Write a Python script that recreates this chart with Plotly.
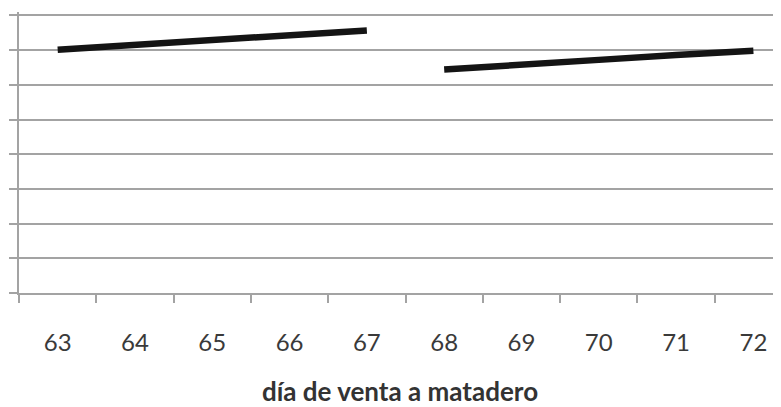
import plotly.graph_objects as go

days_a = [63, 64, 65, 66, 67]
values_a = [7.01, 7.15, 7.26, 7.43, 7.57]
days_b = [68, 69, 70, 71, 72]
values_b = [6.44, 6.56, 6.72, 6.86, 6.98]
all_days = list(range(63, 73))
tick_labels = [str(d) for d in all_days]
x_title = "día de venta a matadero"

fig = go.Figure()
for xs, ys in [(days_a, values_a), (days_b, values_b)]:
    fig.add_trace(go.Scatter(x=xs, y=ys, mode="lines",
                             line=dict(color="#141414", width=6.5),
                             showlegend=False, hoverinfo="skip"))

grid_col = "#a3a3a3"
fig.update_layout(
    width=773, height=399,
    margin=dict(l=11, r=0, t=4, b=110),
    paper_bgcolor="white", plot_bgcolor="white",
    font=dict(family="Lato, 'Open Sans', sans-serif", color="#3c3c3c"),
    xaxis=dict(
        range=[62.5, 72.357],
        tickmode="array", tickvals=all_days, ticktext=tick_labels,
        ticks="outside", ticklen=27, tickcolor="rgba(0,0,0,0)",
        tickfont=dict(size=24, color="#3a3a3a"),
        showgrid=False, zeroline=False,
        showline=True, linecolor=grid_col, linewidth=2,
        minor=dict(tickmode="linear", tick0=62.5, dtick=1, ticks="outside",
                   ticklen=8, tickcolor=grid_col, tickwidth=1.5, showgrid=False),
        title=dict(text=x_title, font=dict(size=26, color="#333333", weight="bold"),
                   standoff=33),
        fixedrange=True,
    ),
    yaxis=dict(
        range=[0, 8.1], dtick=1, tick0=0,
        showticklabels=False,
        ticks="outside", ticklen=8, tickcolor=grid_col, tickwidth=1.5,
        showgrid=True, gridcolor=grid_col, gridwidth=2,
        zeroline=False,
        showline=True, linecolor=grid_col, linewidth=2,
        fixedrange=True,
    ),
)

fig.write_html("out.html")
